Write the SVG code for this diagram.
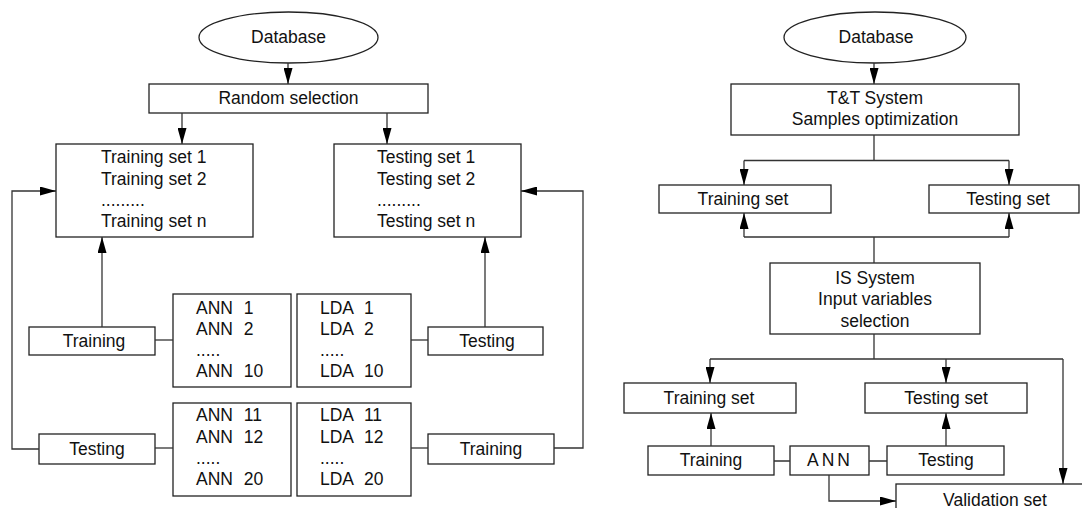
<svg xmlns="http://www.w3.org/2000/svg" width="1082" height="508" viewBox="0 0 1082 508">
  <style>
    .box { fill: #ffffff; stroke: #222222; stroke-width: 1.3; }
    .wire { fill: none; stroke: #333333; stroke-width: 1.3; }
    .arr { marker-end: url(#head); }
    text { font-family: "Liberation Sans", Arial, sans-serif; font-size: 17.5px; fill: #111111; }
    .c { text-anchor: middle; }
    .w { word-spacing: 6px; }
  </style>
  <defs>
    <marker id="head" markerUnits="userSpaceOnUse" markerWidth="16" markerHeight="9" viewBox="0 0 16 9" refX="16" refY="4.5" orient="auto">
      <path d="M0,0 L16,4.5 L0,9 z" fill="#000000"/>
    </marker>
  </defs>

  <!-- Left scheme: random selection of training/testing sets -->
  <g id="db-left">
    <ellipse class="box" cx="288.5" cy="37.5" rx="89.5" ry="25.5"/>
    <text class="c" x="288.5" y="43">Database</text>
  </g>
  <g id="random-selection">
    <rect class="box" x="149" y="84" width="279" height="29"/>
    <text class="c" x="288.5" y="104">Random selection</text>
  </g>
  <g id="training-sets">
    <rect class="box" x="56" y="144" width="197" height="93"/>
    <text x="101" y="163">Training set 1</text>
    <text x="101" y="184.5">Training set 2</text>
    <text x="101" y="206">.........</text>
    <text x="101" y="227">Training set n</text>
  </g>
  <g id="testing-sets">
    <rect class="box" x="334" y="144" width="187" height="93"/>
    <text x="377" y="163">Testing set 1</text>
    <text x="377" y="184.5">Testing set 2</text>
    <text x="377" y="206">.........</text>
    <text x="377" y="227">Testing set n</text>
  </g>
  <g id="training-left">
    <rect class="box" x="29" y="327" width="126" height="28"/>
    <text class="c" x="94" y="347">Training</text>
  </g>
  <g id="testing-left">
    <rect class="box" x="39" y="434" width="116" height="30"/>
    <text class="c" x="97" y="455">Testing</text>
  </g>
  <g id="ann-1-10">
    <rect class="box" x="173" y="294" width="118" height="93"/>
    <text class="w" x="196" y="314">ANN 1</text>
    <text class="w" x="196" y="335">ANN 2</text>
    <text x="196" y="356">.....</text>
    <text class="w" x="196" y="377">ANN 10</text>
  </g>
  <g id="ann-11-20">
    <rect class="box" x="173" y="403" width="118" height="93"/>
    <text class="w" x="196" y="421">ANN 11</text>
    <text class="w" x="196" y="443">ANN 12</text>
    <text x="196" y="464">.....</text>
    <text class="w" x="196" y="485">ANN 20</text>
  </g>
  <g id="lda-1-10">
    <rect class="box" x="297" y="294" width="114" height="93"/>
    <text class="w" x="320" y="314">LDA 1</text>
    <text class="w" x="320" y="335">LDA 2</text>
    <text x="320" y="356">.....</text>
    <text class="w" x="320" y="377">LDA 10</text>
  </g>
  <g id="lda-11-20">
    <rect class="box" x="297" y="403" width="114" height="93"/>
    <text class="w" x="320" y="421">LDA 11</text>
    <text class="w" x="320" y="443">LDA 12</text>
    <text x="320" y="464">.....</text>
    <text class="w" x="320" y="485">LDA 20</text>
  </g>
  <g id="testing-right">
    <rect class="box" x="428" y="327" width="115" height="28"/>
    <text class="c" x="487" y="347">Testing</text>
  </g>
  <g id="training-right">
    <rect class="box" x="428" y="434" width="126" height="30"/>
    <text class="c" x="491" y="455">Training</text>
  </g>

  <!-- Right scheme: T&T and IS systems -->
  <g id="db-right">
    <ellipse class="box" cx="875" cy="37.5" rx="91" ry="25.5"/>
    <text class="c" x="876" y="43">Database</text>
  </g>
  <g id="tt-system">
    <rect class="box" x="731" y="84" width="288" height="51"/>
    <text class="c" x="875" y="104">T&amp;T System</text>
    <text class="c" x="875" y="125">Samples optimization</text>
  </g>
  <g id="training-set-1">
    <rect class="box" x="659" y="185" width="172" height="28"/>
    <text class="c" x="743" y="205">Training set</text>
  </g>
  <g id="testing-set-1">
    <rect class="box" x="929" y="185" width="150" height="28"/>
    <text class="c" x="1008" y="205">Testing set</text>
  </g>
  <g id="is-system">
    <rect class="box" x="770" y="263" width="210" height="71"/>
    <text class="c" x="875" y="284">IS System</text>
    <text class="c" x="875" y="305">Input variables</text>
    <text class="c" x="875" y="327">selection</text>
  </g>
  <g id="training-set-2">
    <rect class="box" x="624" y="383" width="172" height="30"/>
    <text class="c" x="709" y="404">Training set</text>
  </g>
  <g id="testing-set-2">
    <rect class="box" x="865" y="383" width="162" height="30"/>
    <text class="c" x="946" y="404">Testing set</text>
  </g>
  <g id="training-ann">
    <rect class="box" x="648" y="446" width="126" height="29"/>
    <text class="c" x="711" y="466">Training</text>
  </g>
  <g id="ann">
    <rect class="box" x="790" y="446" width="79" height="29"/>
    <text class="c" x="830" y="466" letter-spacing="3">ANN</text>
  </g>
  <g id="testing-ann">
    <rect class="box" x="887" y="446" width="117" height="29"/>
    <text class="c" x="946" y="466">Testing</text>
  </g>
  <g id="validation-set">
    <rect class="box" x="896" y="484" width="200" height="40"/>
    <text class="c" x="995" y="506">Validation set</text>
  </g>

  <g id="connectors">
    <!-- left scheme -->
    <path class="wire arr" d="M288,63 V84"/>
    <path class="wire arr" d="M182,113 V144"/>
    <path class="wire arr" d="M387,113 V144"/>
    <path class="wire arr" d="M102,327 V237"/>
    <path class="wire" d="M155,340 H173"/>
    <path class="wire" d="M155,448 H173"/>
    <path class="wire arr" d="M39,449 H12 V191 H56"/>
    <path class="wire" d="M411,340 H428"/>
    <path class="wire arr" d="M485,327 V237"/>
    <path class="wire" d="M411,448 H428"/>
    <path class="wire arr" d="M554,448 H583 V191 H521"/>
    <!-- right scheme -->
    <path class="wire arr" d="M874,63 V84"/>
    <path class="wire" d="M874,135 V160.5 M744,160.5 H1009"/>
    <path class="wire arr" d="M744,160.5 V185"/>
    <path class="wire arr" d="M1009,160.5 V185"/>
    <path class="wire arr" d="M744,237 V213"/>
    <path class="wire arr" d="M1009,237 V213"/>
    <path class="wire" d="M744,237 H1009 M874,237 V263"/>
    <path class="wire" d="M874,334 V359 M710,359 H1063"/>
    <path class="wire arr" d="M710,359 V383"/>
    <path class="wire arr" d="M946,359 V383"/>
    <path class="wire arr" d="M1063,359 V484"/>
    <path class="wire arr" d="M711,446 V413"/>
    <path class="wire" d="M774,461 H790 M869,461 H887"/>
    <path class="wire arr" d="M946,446 V413"/>
    <path class="wire arr" d="M829,475 V501 H896"/>
  </g>
</svg>
